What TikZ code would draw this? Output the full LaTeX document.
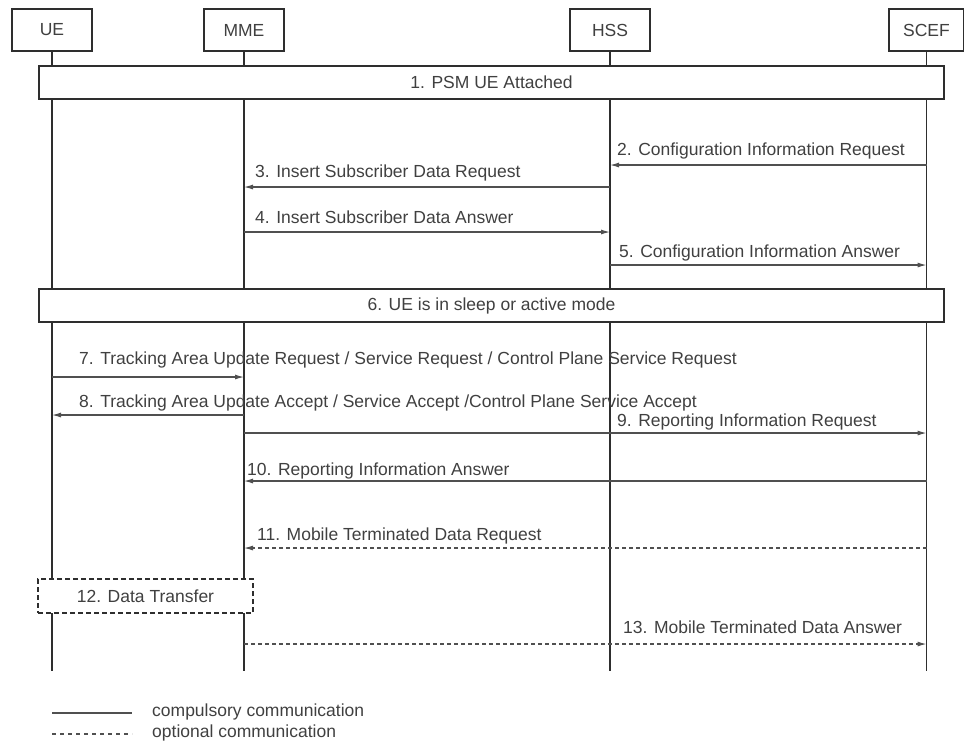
\documentclass[tikz,border=0pt]{standalone}
\usepackage{fontspec}
\setmainfont{Liberation Sans}
\usetikzlibrary{arrows.meta}
\definecolor{txt}{HTML}{404040}
\definecolor{ln}{HTML}{2E2E2E}
\definecolor{ar}{HTML}{505050}
\begin{document}
\begin{tikzpicture}[x=1pt,y=-1pt,
  font=\fontsize{17.5}{21}\selectfont, text=txt,
  actor/.style={draw=ln, line width=1.8pt, fill=white, minimum width=80pt, minimum height=42pt, inner sep=0pt},
  lifeline/.style={draw=ln, line width=1.8pt},
  frame/.style={draw=ln, line width=1.8pt, fill=white, minimum width=905pt, minimum height=33pt, inner sep=0pt},
  optbox/.style={draw=ln, line width=1.6pt, dash pattern=on 5pt off 3pt, fill=white, minimum width=215pt, minimum height=34pt, inner sep=0pt},
  msg/.style={draw=ar, line width=1.1pt, -{Latex[length=9pt,width=5pt]}},
  optmsg/.style={msg, dash pattern=on 4pt off 3pt},
  lbl/.style={inner sep=0pt, anchor=base west},
  lblr/.style={inner sep=0pt, anchor=base east}
]
\useasboundingbox (0,0) rectangle (964,740);

% actors
\node[actor] (ue) at (52,30) {UE};
\node[actor] (mme) at (244,30) {MME};
\node[actor] (hss) at (610,30) {HSS};
\node[actor, minimum width=75pt] (scef) at (926.5,30) {SCEF};

% lifeline ends
\coordinate (ueE) at (52,671);
\coordinate (mmeE) at (244,671);
\coordinate (hssE) at (610,671);
\coordinate (scefE) at (926.5,671);
\draw[lifeline] (ue.south) -- (ueE);
\draw[lifeline] (mme.south) -- (mmeE);
\draw[lifeline] (hss.south) -- (hssE);
\draw[lifeline] (scef.south) -- (scefE);

% frames
\node[frame] (f1) at (491.5,82.5) {1. PSM UE Attached};
\node[frame] (f6) at (491.5,305.5) {6. UE is in sleep or active mode};

% messages
\node[lblr] (l2) at (905,155) {2. Configuration Information Request};
\draw[msg] (scef |- 0,165) -- (hss |- 0,165);

\node[lbl] (l3) at (255,177) {3. Insert Subscriber Data Request};
\draw[msg] (hss |- 0,187) -- (mme |- 0,187);

\node[lbl] (l4) at (255,223) {4. Insert Subscriber Data Answer};
\draw[msg] (mme |- 0,232) -- (hss |- 0,232);

\node[lbl] (l5) at (619,257) {5. Configuration Information Answer};
\draw[msg] (hss |- 0,265) -- (scef |- 0,265);

\node[lbl] (l7) at (79,364) {7. Tracking Area Update Request / Service Request / Control Plane Service Request};
\draw[msg] (ue |- 0,377) -- (mme |- 0,377);

\node[lbl] (l8) at (79,407) {8. Tracking Area Update Accept / Service Accept /Control Plane Service Accept};
\draw[msg] (mme |- 0,415) -- (ue |- 0,415);

\node[lbl] (l9) at (617,426) {9. Reporting Information Request};
\draw[msg] (mme |- 0,433) -- (scef |- 0,433);

\node[lbl] (l10) at (247,475) {10. Reporting Information Answer};
\draw[msg] (scef |- 0,481) -- (mme |- 0,481);

\node[lbl] (l11) at (257,540) {11. Mobile Terminated Data Request};
\draw[optmsg] (scef |- 0,548) -- (mme |- 0,548);

\node[optbox] (b12) at (145.5,596) {12. Data Transfer};

\node[lbl] (l13) at (623,633) {13. Mobile Terminated Data Answer};
\draw[optmsg] (mme |- 0,644) -- (scef |- 0,644);

% legend
\coordinate (lg1a) at (52,713);
\coordinate (lg1b) at (132,713);
\coordinate (lg2a) at (52,734);
\coordinate (lg2b) at (132,734);
\draw[draw=ar, line width=1.1pt] (lg1a) -- (lg1b);
\draw[draw=ar, line width=1.1pt, dash pattern=on 4pt off 4pt] (lg2a) -- (lg2b);
\node[inner sep=0pt, anchor=west] (lt1) at (152,712) {compulsory communication};
\node[inner sep=0pt, anchor=west] (lt2) at (152,733) {optional communication};
\end{tikzpicture}
\end{document}
